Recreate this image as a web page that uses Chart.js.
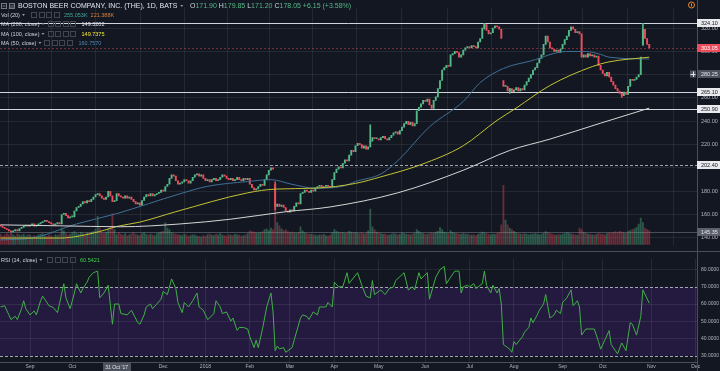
<!DOCTYPE html>
<html lang="en">
<head>
<meta charset="UTF-8">
<title>Boston Beer Company, 1D</title>
<script src="https://cdn.jsdelivr.net/npm/chart.js@4.4.0/dist/chart.umd.min.js"></script>
<style>
    * { margin: 0; padding: 0; box-sizing: border-box; }
    html, body { width: 720px; height: 371px; background: #131722; overflow: hidden; }
    .pane { position: absolute; left: 0; width: 720px; }
    #mainPane { top: 0; height: 252px; }
    #rsiPane { top: 252px; height: 119px; }
</style>
</head>
<body>
<div class="pane" id="mainPane"><canvas id="mainChart" width="720" height="252"></canvas></div>
<div class="pane" id="rsiPane"><canvas id="rsiChart" width="720" height="119"></canvas></div>

<script>
// ---- data (x = trading day index, 0 = 14 Aug 2017) ----
const monthIdx = [14, 34, 56, 77, 97, 118, 137, 158, 179, 201, 222, 243, 266, 285, 308, 329];
const monthLabels = ['Sep', 'Oct', 'Nov', 'Dec', '2018', 'Feb', 'Mar', 'Apr', 'May', 'Jun', 'Jul', 'Aug', 'Sep', 'Oct', 'Nov', 'Dec'];
const priceTicks = [140, 160, 180, 200, 220, 240, 260, 280, 300, 320];
const rsiTicks = [30, 40, 50, 60, 70, 80];

const closes = [
    150, 149, 148, 147, 146, 145, 146, 147, 146, 148,
    149, 150, 151, 150, 151, 152, 150, 151, 152, 153,
    154, 155, 154, 153, 152, 151, 152, 153, 152, 160,
    161, 159, 157, 158, 158, 163, 166, 167, 169, 171,
    170, 172, 171, 173, 175, 177, 178, 176, 174, 173,
    175, 180, 176, 171, 171.9, 178.05, 176, 175, 174, 176,
    174, 175, 173, 171, 169, 170, 168, 172, 175, 177,
    176, 178, 176, 177, 178, 179, 181, 180, 184, 186,
    191, 194, 193, 189, 186, 187, 188, 190, 189, 187,
    189, 192, 194, 195, 193, 194, 191, 189, 190, 188,
    190, 191, 189, 190, 192, 194, 193, 191, 190, 191,
    189, 190, 192, 190, 189, 191, 190, 191, 186, 183,
    181, 182, 184, 186, 185, 190, 194, 198, 200, 199,
    167, 169, 167, 168, 166, 163, 162, 164, 163, 167,
    170, 169, 178, 179, 181, 180, 179, 181, 180, 183,
    184, 185, 183, 184, 185, 184, 183, 190, 196, 199,
    201, 200, 204, 207, 206, 211, 215, 214, 219, 221,
    220, 217, 219, 216, 218, 223, 226, 225, 225, 224,
    226, 227, 225, 224, 226, 228, 230, 231, 229, 232,
    235, 238, 240, 237, 239, 236, 238, 249, 252, 255,
    258, 257, 259, 254, 251, 258, 261, 268, 275, 284,
    286, 288, 287, 297, 298, 300, 299, 295, 297, 301,
    303, 304, 303, 305, 304, 303, 308, 311, 320, 323,
    318, 315, 316, 320, 322, 321, 319, 311, 270, 270,
    266, 268, 265.5, 267, 269, 266, 268, 267, 271, 274,
    277, 280, 284, 286, 290, 294, 297, 306, 313, 308,
    303, 302, 300, 301, 299, 302, 306, 310, 313, 318,
    321, 319, 316, 317, 315, 295, 297, 295, 298, 296,
    297, 295, 296, 288, 284, 281, 279, 282, 278, 274,
    271, 268, 266, 264, 262, 265, 263, 270, 276, 275,
    276, 278, 280, 295, 319, 311, 306, 303.05
];
const firstOpen = 151;
const gapDays = [130, 238, 304];
const gapOpens = [186, 275, 306];
const wickDays = [130, 175, 229, 241, 294, 304];
const wickHighs = [188, 237, 324.1, 268, 264, 324.1];
const wickLows = [164, 222, 319, 264, 260.5, 305];

// volume in thousands
const volumes = [
    260, 210, 240, 280, 230, 300, 250, 220, 270, 240,
    230, 260, 220, 250, 240, 200, 230, 210, 250, 260,
    280, 230, 210, 240, 220, 200, 250, 230, 260, 420,
    350, 280, 240, 260, 300, 330, 290, 260, 310, 280,
    250, 300, 280, 320, 340, 380, 714, 420, 300, 280,
    320, 400, 450, 785, 380, 255, 300, 260, 240, 280,
    230, 250, 270, 300, 260, 240, 230, 280, 300, 260,
    240, 270, 250, 230, 280, 300, 320, 340, 560, 420,
    380, 300, 280, 260, 250, 240, 230, 260, 240, 220,
    230, 250, 240, 220, 210, 200, 230, 220, 250, 270,
    240, 230, 260, 250, 280, 240, 230, 220, 250, 240,
    230, 260, 250, 240, 220, 230, 250, 280, 350, 330,
    320, 300, 290, 310, 330, 380, 400, 360, 420, 380,
    1070, 560, 480, 400, 350, 380, 330, 300, 320, 300,
    290, 310, 450, 350, 300, 280, 260, 270, 250, 240,
    230, 250, 240, 260, 230, 220, 240, 300, 380, 340,
    320, 300, 310, 290, 300, 340, 320, 300, 310, 290,
    280, 300, 270, 290, 350, 900, 450, 380, 320, 300,
    280, 260, 270, 250, 240, 260, 280, 270, 250, 260,
    300, 280, 270, 260, 250, 270, 290, 380, 340, 300,
    280, 270, 260, 280, 300, 290, 320, 340, 430, 380,
    320, 300, 280, 360, 310, 290, 280, 270, 260, 280,
    270, 260, 250, 240, 250, 230, 260, 280, 320, 300,
    280, 260, 250, 270, 260, 280, 300, 500, 1500, 620,
    500, 420, 380, 340, 300, 280, 270, 260, 280, 260,
    250, 270, 260, 280, 270, 250, 260, 290, 330, 300,
    280, 260, 250, 240, 260, 250, 270, 280, 300, 290,
    270, 260, 250, 240, 420, 380, 320, 290, 270, 260,
    250, 240, 260, 280, 270, 260, 250, 280, 300, 290,
    310, 330, 300, 340, 320, 300, 290, 330, 360, 380,
    400, 440, 520, 670, 560, 420, 380, 360
];

const ma50Days = [0, 15, 36, 55, 85, 98, 117, 128, 138, 149, 162, 168, 180, 188, 203, 219, 227, 238, 251, 268, 277, 284, 288, 307];
const ma50Values = [138.2, 139.8, 151.9, 160.76, 177.8, 184.2, 188.3, 189.9, 185.9, 182.6, 184.2, 188.3, 194.8, 206.1, 235.2, 257, 273.2, 285.3, 291.8, 299.9, 299.9, 297.4, 295, 293.4];
const ma100Days = [0, 28, 47, 55, 66, 83, 117, 130, 149, 168, 180, 199, 219, 235, 244, 260, 280, 288, 307];
const ma100Values = [139.8, 139.8, 145.4, 149.74, 153.5, 162.4, 178.6, 181.8, 182.6, 186.7, 192.3, 202.8, 219, 240.8, 251.3, 270.7, 286.9, 291, 295];
const ma200Days = [0, 28, 57, 85, 109, 135, 156, 188, 219, 241, 260, 284, 307];
const ma200Values = [151.1, 150.3, 149.5, 151.9, 156, 162.4, 166.5, 178.6, 198, 215, 224.7, 238.4, 251.3];

const rsiDays = [
    0, 2, 4, 5, 7, 8, 10, 11, 12, 14, 16, 17, 19, 20, 23, 25, 27, 28, 30, 31,
    33, 35, 36, 38, 39, 41, 42, 44, 46, 47, 49, 51, 53, 54, 56, 57, 60, 62, 65, 66,
    68, 69, 71, 72, 74, 76, 77, 79, 81, 83, 84, 86, 87, 89, 91, 93, 94, 96, 98, 99,
    101, 102, 104, 105, 107, 109, 110, 112, 113, 115, 117, 118, 120, 121, 122, 124, 126, 128, 129, 130,
    131, 132, 134, 135, 138, 139, 142, 143, 145, 146, 148, 150, 151, 154, 155, 157, 158, 160, 162, 164,
    165, 169, 171, 173, 175, 176, 177, 180, 182, 184, 186, 187, 191, 193, 195, 196, 198, 199, 202, 203,
    206, 208, 210, 211, 213, 215, 217, 218, 219, 221, 222, 224, 225, 228, 229, 230, 232, 233, 235, 236,
    237, 238, 240, 241, 242, 243, 244, 247, 248, 250, 251, 252, 254, 255, 257, 258, 260, 262, 263, 265,
    266, 268, 270, 271, 273, 274, 275, 277, 279, 281, 283, 284, 286, 288, 289, 291, 292, 294, 296, 298,
    299, 301, 303, 304, 307
];
const rsiValues = [
    58.3, 59, 53.7, 51, 52.9, 51, 57.3, 61.9, 57.3, 53.7, 56, 53.7, 61.9, 64.6, 59, 58, 55, 60.5, 71.8, 63.6,
    57.3, 66.4, 71.8, 66.4, 69, 72.7, 75.6, 78.2, 79.1, 63.6, 66.4, 70.9, 48.3, 60, 60, 54.5, 53.7, 56.4, 49.2, 48.3,
    53.7, 58.3, 60, 57.3, 60, 62.8, 67.3, 65.5, 74.6, 69, 60.9, 55, 60.9, 58.3, 61.9, 66.4, 58.3, 56.4, 51, 51.9,
    54.5, 61.9, 58.3, 54.5, 55.4, 50.1, 51.9, 44.7, 46.4, 46.4, 45.5, 41, 34.7, 39.1, 34.7, 45.5, 58.3, 66.4, 55.4, 32.9,
    35.6, 34, 34.7, 32, 34.7, 39.1, 51.9, 53.7, 52.8, 51, 55.4, 53.7, 58.3, 58.3, 60.9, 58.3, 72.7, 70, 70, 78.2,
    72, 78.2, 70.9, 64.6, 63.6, 73.6, 65.5, 68.2, 65.5, 69, 70, 73.6, 78.2, 68.2, 70, 68.2, 78.2, 74.6, 78.2, 62.8,
    75.6, 80, 81.8, 71.8, 75.6, 79.1, 79.1, 66.4, 70, 70.9, 70, 71.8, 69, 71.8, 79.1, 70.9, 66.4, 70.9, 66.4, 69,
    60, 36.5, 34.7, 33.8, 32, 38.2, 36.5, 41, 43.7, 46.4, 51.9, 49.2, 53.7, 56.4, 60, 65.5, 51.9, 53.7, 56.4, 54.5,
    60.9, 63.6, 68.2, 59, 61.9, 58.3, 42, 45.5, 45.5, 45.5, 38.2, 33.8, 39.1, 44.6, 36.5, 32.9, 31.1, 37.4, 32.9, 49.2,
    48.3, 42, 52.8, 68.2, 60.5
];

const levelValues = [324.10, 303.05, 265.10, 250.90, 202.40, 145.35];
const crossDay = 55;
const crossPrice = 280.25;
const crossDate = "31 Oct '17";

// ---- styles ----
const FONT = '"Liberation Sans", Arial, sans-serif';
const TXT = '#b2b5be';
const GRID = 'rgba(255,255,255,0.075)';
const UP = '#53b987';
const DOWN = '#eb4d5c';
const AXIS_W = 23;
const X_MIN = -0.2, X_MAX = 329.6;

const levelStyles = [
    { line: '#d1d4dc', dash: [], bg: '#e9eaee', fg: '#131722' },
    { line: 'rgba(200,60,80,0.55)', dash: [2, 2], bg: '#eb4d5c', fg: '#ffffff' },
    { line: '#d1d4dc', dash: [], bg: '#e9eaee', fg: '#131722' },
    { line: '#d1d4dc', dash: [], bg: '#e9eaee', fg: '#131722' },
    { line: '#a3a6af', dash: [3, 2], bg: '#e9eaee', fg: '#131722' },
    { line: '#4a4e59', dash: [], bg: '#5d606b', fg: '#e0e3eb' }
];

// ---- derived candle data ----
const opens = closes.map((c, i) => {
    const g = gapDays.indexOf(i);
    if (g >= 0) return gapOpens[g];
    return i === 0 ? firstOpen : closes[i - 1];
});
const candleColors = closes.map((c, i) => c >= opens[i] ? UP : DOWN);

// ---- helpers ----
function caret(ctx, x, y) {
    ctx.fillStyle = '#9598a1';
    ctx.beginPath();
    ctx.moveTo(x, y - 1);
    ctx.lineTo(x + 3, y - 1);
    ctx.lineTo(x + 1.5, y + 1);
    ctx.closePath();
    ctx.fill();
}

function iconBoxes(ctx, x, y) {
    ctx.strokeStyle = '#434651';
    ctx.lineWidth = 1;
    for (let k = 0; k < 4; k++) ctx.strokeRect(Math.round(x + k * 7.5) + 0.5, Math.round(y) - 2.5, 5, 5);
}

function run(ctx, x, y, parts) {
    for (const [t, c] of parts) {
        ctx.fillStyle = c;
        ctx.fillText(t, x, y);
        x += ctx.measureText(t).width;
    }
    return x;
}

function priceTag(ctx, x, y, text, bg, fg) {
    const yy = Math.round(y);
    ctx.fillStyle = bg;
    ctx.fillRect(x, yy - 4, AXIS_W, 8);
    ctx.fillStyle = fg;
    ctx.font = '5.5px ' + FONT;
    ctx.textAlign = 'left';
    ctx.textBaseline = 'middle';
    ctx.fillText(text, x + 4, yy + 0.5);
}

function xScaleBase() {
    return {
        type: 'linear', min: X_MIN, max: X_MAX, offset: false, bounds: 'data',
        afterBuildTicks: s => { s.ticks = monthIdx.map(v => ({ value: v })); },
        grid: { color: GRID, drawTicks: false },
        border: { display: false }
    };
}

// ---- main pane overlay ----
const mainOverlay = {
    id: 'mainOverlay',
    beforeDatasetsDraw(chart) {
        const { ctx, chartArea: a, scales: { y } } = chart;
        ctx.save();
        ctx.lineWidth = 1;
        levelValues.forEach((v, k) => {
            const st = levelStyles[k];
            const py = Math.round(y.getPixelForValue(v)) + 0.5;
            ctx.strokeStyle = st.line;
            ctx.setLineDash(st.dash);
            ctx.beginPath();
            ctx.moveTo(a.left, py);
            ctx.lineTo(a.right, py);
            ctx.stroke();
        });
        ctx.restore();
    },
    afterDraw(chart) {
        const { ctx, chartArea: a, scales: { y } } = chart;
        ctx.save();
        // axis border and pane separator
        ctx.strokeStyle = '#4a4e59';
        ctx.lineWidth = 1;
        ctx.beginPath();
        ctx.moveTo(a.right + 0.5, 0);
        ctx.lineTo(a.right + 0.5, chart.height);
        ctx.moveTo(0, chart.height - 0.5);
        ctx.lineTo(chart.width, chart.height - 0.5);
        ctx.stroke();

        // price tags
        levelValues.forEach((v, k) => {
            const st = levelStyles[k];
            priceTag(ctx, a.right, y.getPixelForValue(v), v.toFixed(2), st.bg, st.fg);
        });
        const cy = Math.round(y.getPixelForValue(crossPrice));
        priceTag(ctx, a.right, cy, crossPrice.toFixed(2), '#4c525e', '#e0e3eb');
        ctx.fillStyle = '#4c525e';
        ctx.fillRect(a.right - 7, cy - 3.5, 6, 7);
        ctx.strokeStyle = '#e0e3eb';
        ctx.beginPath();
        ctx.moveTo(a.right - 6.5, cy + 0.5); ctx.lineTo(a.right - 1.5, cy + 0.5);
        ctx.moveTo(a.right - 3.5, cy - 2.5); ctx.lineTo(a.right - 3.5, cy + 3);
        ctx.stroke();

        // earnings icon
        ctx.strokeStyle = '#f0892b';
        ctx.lineWidth = 1;
        ctx.beginPath();
        ctx.arc(691.5, 5, 3, 0, Math.PI * 2);
        ctx.moveTo(691.5, 3.5); ctx.lineTo(691.5, 6.5);
        ctx.stroke();

        // legend
        ctx.textAlign = 'left';
        ctx.textBaseline = 'middle';
        ctx.strokeStyle = '#787b86';
        ctx.strokeRect(1.5, 3.5, 5, 5);
        ctx.beginPath(); ctx.moveTo(2.5, 6); ctx.lineTo(5.5, 6); ctx.stroke();
        ctx.strokeRect(9.5, 3.5, 5, 5);
        ctx.beginPath(); ctx.moveTo(11, 5); ctx.lineTo(11, 8); ctx.moveTo(13, 4.5); ctx.lineTo(13, 8); ctx.stroke();

        ctx.font = '7px ' + FONT;
        let x = run(ctx, 18, 6, [['BOSTON BEER COMPANY, INC. (THE), 1D, BATS', '#e0e3eb']]);
        caret(ctx, x + 3, 6);
        run(ctx, 190, 6, [
            ['O', '#d1d4dc'], ['171.90', UP], [' H', '#d1d4dc'], ['179.85', UP],
            [' L', '#d1d4dc'], ['171.20', UP], [' C', '#d1d4dc'], ['178.05', UP],
            [' +6.15 (+3.58%)', UP]
        ]);

        ctx.font = '5.5px ' + FONT;
        x = run(ctx, 1, 15, [['Vol (20)', '#d1d4dc']]);
        caret(ctx, x + 2, 15);
        iconBoxes(ctx, 31, 15);
        run(ctx, 64, 15, [['255.053K', '#3fa99a'], ['  221.388K', '#d9823f']]);

        const maRows = [
            ['MA (200, close)', 24, '149.3202', '#e0e3eb'],
            ['MA (100, close)', 34, '149.7375', '#f5e93a'],
            ['MA (50, close)', 43, '160.7570', '#4d86b0']
        ];
        maRows.forEach(([label, ry, val, col]) => {
            ctx.font = '5.5px ' + FONT;
            const ex = run(ctx, 1, ry, [[label, '#d1d4dc']]);
            caret(ctx, ex + 2, ry);
            iconBoxes(ctx, ex + 8, ry);
            run(ctx, ex + 42, ry, [[val, col]]);
        });
        ctx.restore();
    }
};

// ---- RSI pane overlay ----
const rsiOverlay = {
    id: 'rsiOverlay',
    beforeDraw(chart) {
        const { ctx, chartArea: a, scales: { y } } = chart;
        const y70 = y.getPixelForValue(70), y30 = y.getPixelForValue(30);
        ctx.save();
        ctx.fillStyle = '#241a40';
        ctx.fillRect(a.left, y70, a.right - a.left, y30 - y70);
        ctx.restore();
    },
    beforeDatasetsDraw(chart) {
        const { ctx, chartArea: a, scales: { y } } = chart;
        ctx.save();
        ctx.strokeStyle = '#a3a6af';
        ctx.lineWidth = 1;
        ctx.setLineDash([3, 2]);
        [70, 30].forEach(v => {
            const py = Math.round(y.getPixelForValue(v)) + 0.5;
            ctx.beginPath();
            ctx.moveTo(a.left, py);
            ctx.lineTo(a.right, py);
            ctx.stroke();
        });
        ctx.restore();
    },
    afterDraw(chart) {
        const { ctx, chartArea: a, scales: { x } } = chart;
        ctx.save();
        ctx.strokeStyle = '#4a4e59';
        ctx.lineWidth = 1;
        ctx.beginPath();
        ctx.moveTo(a.right + 0.5, 0);
        ctx.lineTo(a.right + 0.5, chart.height);
        ctx.stroke();

        ctx.textAlign = 'left';
        ctx.textBaseline = 'middle';
        ctx.font = '5.5px ' + FONT;
        const ex = run(ctx, 1, 8, [['RSI (14, close)', '#d1d4dc']]);
        caret(ctx, ex + 2, 8);
        iconBoxes(ctx, 47, 8);
        run(ctx, 80, 8, [['60.5421', '#3cd34a']]);

        // crosshair date tag on the time axis
        const cx = x.getPixelForValue(crossDay);
        ctx.fillStyle = '#4c525e';
        ctx.fillRect(Math.round(cx - 14), a.bottom + 1, 28, 8);
        ctx.fillStyle = '#e0e3eb';
        ctx.font = '5px ' + FONT;
        ctx.textAlign = 'center';
        ctx.fillText(crossDate, cx, a.bottom + 5.5);
        ctx.restore();
    }
};

Chart.defaults.font.family = FONT;

// ---- main price chart ----
const mainX = xScaleBase();
mainX.ticks = { display: false };
mainX.afterFit = s => { s.height = 0; };

new Chart(document.getElementById('mainChart'), {
    type: 'bar',
    data: {
        datasets: [
            {
                label: 'Volume',
                yAxisID: 'yv',
                data: volumes.map((v, i) => ({ x: i, y: v })),
                backgroundColor: closes.map((c, i) => c >= opens[i] ? 'rgba(83,185,135,0.4)' : 'rgba(235,77,92,0.4)'),
                barThickness: 1.2,
                grouped: false,
                order: 4
            },
            {
                label: 'Wicks',
                data: wickDays.map((d, k) => ({ x: d, y: [wickLows[k], wickHighs[k]] })),
                backgroundColor: wickDays.map(d => candleColors[d]),
                barThickness: 1,
                grouped: false,
                order: 3
            },
            {
                label: 'Price',
                data: closes.map((c, i) => ({ x: i, y: [opens[i], c] })),
                backgroundColor: candleColors,
                barThickness: 1.25,
                minBarLength: 1,
                grouped: false,
                order: 2
            },
            {
                type: 'line', label: 'MA 200',
                data: ma200Days.map((d, k) => ({ x: d, y: ma200Values[k] })),
                borderColor: '#d6d6d6', borderWidth: 1, pointRadius: 0,
                cubicInterpolationMode: 'monotone', order: 1
            },
            {
                type: 'line', label: 'MA 100',
                data: ma100Days.map((d, k) => ({ x: d, y: ma100Values[k] })),
                borderColor: '#c4c236', borderWidth: 1, pointRadius: 0,
                cubicInterpolationMode: 'monotone', order: 1
            },
            {
                type: 'line', label: 'MA 50',
                data: ma50Days.map((d, k) => ({ x: d, y: ma50Values[k] })),
                borderColor: '#3f7096', borderWidth: 1, pointRadius: 0,
                cubicInterpolationMode: 'monotone', order: 1
            }
        ]
    },
    options: {
        responsive: false,
        animation: false,
        events: [],
        layout: { padding: 0 },
        plugins: { legend: { display: false }, tooltip: { enabled: false } },
        scales: {
            x: mainX,
            y: {
                position: 'right', min: 134.1, max: 337.8, bounds: 'data',
                afterBuildTicks: s => { s.ticks = priceTicks.map(v => ({ value: v })); },
                afterFit: s => { s.width = AXIS_W; },
                ticks: { color: TXT, font: { size: 5.5 }, padding: 4, callback: v => v.toFixed(2) },
                grid: { color: GRID, drawTicks: false },
                border: { display: false }
            },
            yv: { display: false, min: 0, max: 6000 }
        }
    },
    plugins: [mainOverlay]
});

// ---- RSI chart ----
const rsiX = xScaleBase();
rsiX.ticks = {
    color: TXT, font: { size: 5 }, padding: 2, autoSkip: false, maxRotation: 0,
    callback: (v, i) => monthLabels[i]
};
rsiX.afterFit = s => { s.height = 9; };
rsiX.border = { display: true, color: '#4a4e59' };

new Chart(document.getElementById('rsiChart'), {
    type: 'line',
    data: {
        datasets: [{
            label: 'RSI (14, close)',
            data: rsiDays.map((d, k) => ({ x: d, y: rsiValues[k] })),
            borderColor: '#3fb045', borderWidth: 1, pointRadius: 0, tension: 0
        }]
    },
    options: {
        responsive: false,
        animation: false,
        events: [],
        layout: { padding: 0 },
        plugins: { legend: { display: false }, tooltip: { enabled: false } },
        scales: {
            x: rsiX,
            y: {
                position: 'right', min: 26.36, max: 86.14, bounds: 'data',
                afterBuildTicks: s => { s.ticks = rsiTicks.map(v => ({ value: v })); },
                afterFit: s => { s.width = AXIS_W; },
                ticks: { color: TXT, font: { size: 5 }, padding: 4, callback: v => v.toFixed(4) },
                grid: {
                    drawTicks: false,
                    color: c => (c.tick && (c.tick.value === 30 || c.tick.value === 70)) ? 'rgba(0,0,0,0)' : GRID
                },
                border: { display: false }
            }
        }
    },
    plugins: [rsiOverlay]
});
</script>
</body>
</html>
